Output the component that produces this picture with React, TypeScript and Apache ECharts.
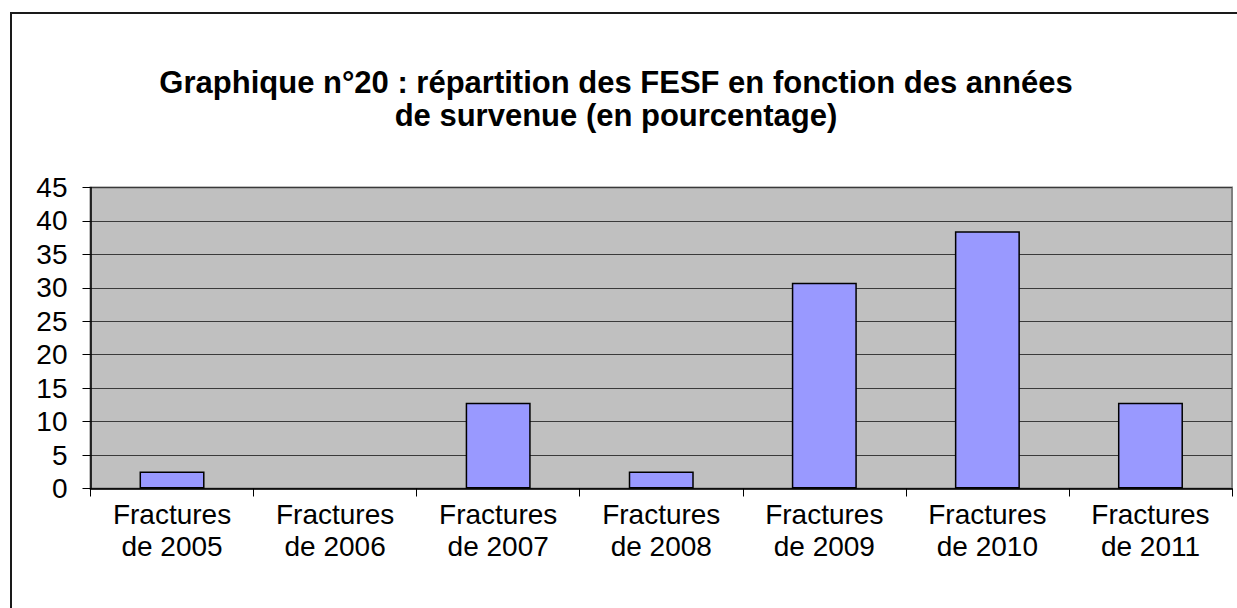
import React, { useEffect, useRef } from "react";
import * as echarts from "echarts";

const categories = [
  "Fractures\nde 2005",
  "Fractures\nde 2006",
  "Fractures\nde 2007",
  "Fractures\nde 2008",
  "Fractures\nde 2009",
  "Fractures\nde 2010",
  "Fractures\nde 2011",
];
const percentages = [2.56, 0, 12.82, 2.56, 30.77, 38.46, 12.82];
const titleLines = [
  "Graphique n°20 : répartition des FESF en fonction des années",
  "de survenue (en pourcentage)",
];

const FONT = "'Liberation Sans', Arial, sans-serif";

export default function App() {
  const ref = useRef<HTMLDivElement>(null);
  useEffect(() => {
    if (!ref.current) return;
    const chart = echarts.init(ref.current, undefined, { renderer: "svg" });
    chart.setOption({
      animation: false,
      backgroundColor: "#ffffff",
      title: {
        text: titleLines.join("\n"),
        left: 611,
        top: 61,
        textAlign: "center",
        textStyle: {
          fontFamily: FONT,
          fontSize: 31,
          fontWeight: "bold",
          lineHeight: 33,
          color: "#000",
        },
      },
      graphic: [
        {
          type: "rect",
          shape: { x: 11, y: 13, width: 1400, height: 800 },
          style: { fill: "none", stroke: "#1a1a1a", lineWidth: 2 },
          silent: true,
          z: 100,
        },
      ],
      grid: {
        left: 90.5,
        top: 187.5,
        width: 1141.5,
        height: 301,
        show: true,
        backgroundColor: "#C0C0C0",
        borderColor: "#808080",
        borderWidth: 2,
      },
      xAxis: {
        type: "category",
        data: categories,
        axisLine: { lineStyle: { color: "#000", width: 1.5 } },
        axisTick: { show: true, length: 8, lineStyle: { color: "#000" } },
        axisLabel: {
          interval: 0,
          fontFamily: FONT,
          fontSize: 28,
          lineHeight: 32,
          color: "#000",
          margin: 10,
        },
      },
      yAxis: {
        type: "value",
        min: 0,
        max: 45,
        interval: 5,
        axisLine: { show: true, lineStyle: { color: "#000", width: 1.5 } },
        axisTick: { show: true, length: 8, lineStyle: { color: "#000" } },
        axisLabel: {
          fontFamily: FONT,
          fontSize: 28,
          color: "#000",
          margin: 23,
        },
        splitLine: { show: true, lineStyle: { color: "#3a3a3a", width: 1 } },
      },
      series: [
        {
          type: "bar",
          data: percentages.map((v) =>
            v === 0 ? { value: v, itemStyle: { borderWidth: 0 } } : v
          ),
          barWidth: 65,
          itemStyle: { color: "#9999FF", borderColor: "#000", borderWidth: 1.5 },
        },
      ],
    });
    return () => chart.dispose();
  }, []);
  return (
    <div
      ref={ref}
      style={{ position: "fixed", left: 0, top: 0, width: 1237, height: 608 }}
    />
  );
}
